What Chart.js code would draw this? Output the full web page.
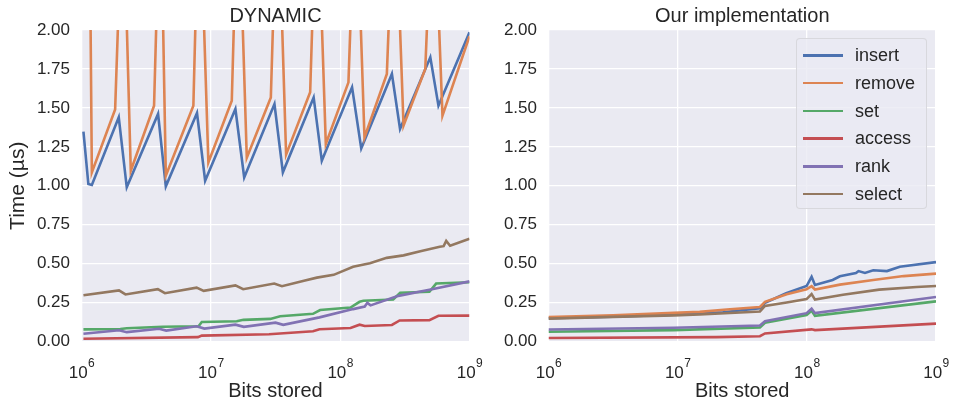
<!DOCTYPE html>
<html><head><meta charset="utf-8">
<script src="https://cdn.jsdelivr.net/npm/chart.js@4.4.1/dist/chart.umd.min.js"></script>
<style>
html,body{margin:0;padding:0;background:#fff;width:953px;height:402px;overflow:hidden;font-family:"Liberation Sans",Arial,sans-serif;}
#wrap{position:relative;width:953px;height:402px;}
canvas{position:absolute;top:0;}
#c1{left:0}
#c2{left:476px}
#legend{position:absolute;left:796px;top:38px;width:131px;height:171px;box-sizing:border-box;background:rgba(234,234,242,0.8);border:1px solid rgba(214,214,218,0.9);border-radius:4px;}
.row{position:absolute;left:0;width:131px;height:22px;}
.sw{position:absolute;left:6px;top:10px;width:40px;height:2.6px;}
.lb{position:absolute;left:58px;top:0;font-size:18px;line-height:22px;color:#262626;}
</style>
</head><body>
<div id="wrap">
<canvas id="c1" width="510" height="402"></canvas>
<canvas id="c2" width="477" height="402"></canvas>
<div id="legend"></div>
</div>
<script>
// ---- data: x given as log10(bits stored), y as time in µs ----
const seriesNames = ['insert', 'remove', 'set', 'access', 'rank', 'select'];
const xTickExps = [6, 7, 8, 9];
const xTickBase = '10';
const xTickExpLabels = ['6', '7', '8', '9'];
const yTickValues = [0, 0.25, 0.5, 0.75, 1.0, 1.25, 1.5, 1.75, 2.0];

// DYNAMIC
const dynInsertExp  = [6.015, 6.053, 6.080, 6.288, 6.350, 6.592, 6.652, 6.893, 6.956, 7.190, 7.258, 7.492, 7.557, 7.795, 7.858, 8.092, 8.163, 8.400, 8.463, 8.697, 8.760, 9.000];
const dynInsertTime = [1.347, 1.011, 1.005, 1.439, 0.990, 1.461, 0.996, 1.467, 1.032, 1.493, 1.053, 1.525, 1.086, 1.567, 1.160, 1.632, 1.240, 1.718, 1.364, 1.825, 1.514, 1.985];
const dynRemoveExp  = [6.060, 6.080, 6.260, 6.320, 6.381, 6.561, 6.610, 6.652, 6.865, 6.910, 6.981, 7.162, 7.210, 7.278, 7.464, 7.515, 7.582, 7.768, 7.820, 7.889, 8.064, 8.120, 8.188, 8.361, 8.420, 8.490, 8.658, 8.720, 8.791, 9.000];
const dynRemoveTime = [3.00, 1.085, 1.490, 2.95, 1.096, 1.514, 3.00, 1.064, 1.514, 3.00, 1.150, 1.546, 3.00, 1.180, 1.567, 3.00, 1.200, 1.600, 3.00, 1.268, 1.664, 3.00, 1.310, 1.718, 3.00, 1.386, 1.750, 3.00, 1.450, 1.960];
const dynSetExp     = [6.015, 6.30, 6.35, 6.63, 6.905, 6.93, 7.20, 7.252, 7.46, 7.536, 7.79, 7.845, 8.08, 8.15, 8.18, 8.41, 8.464, 8.69, 8.742, 9.0];
const dynSetTime    = [0.078, 0.080, 0.085, 0.095, 0.098, 0.125, 0.130, 0.139, 0.145, 0.162, 0.178, 0.202, 0.218, 0.255, 0.262, 0.270, 0.313, 0.319, 0.372, 0.380];
const dynAccessExp  = [6.015, 6.90, 6.93, 7.45, 7.79, 7.84, 8.08, 8.15, 8.19, 8.40, 8.46, 8.69, 8.76, 9.0];
const dynAccessTime = [0.018, 0.028, 0.038, 0.047, 0.066, 0.079, 0.087, 0.108, 0.100, 0.106, 0.135, 0.137, 0.165, 0.166];
const dynRankExp    = [6.015, 6.29, 6.35, 6.60, 6.655, 6.89, 6.95, 7.19, 7.255, 7.50, 7.56, 7.84, 8.10, 8.19, 8.21, 8.235, 8.45, 8.71, 9.0];
const dynRankTime   = [0.050, 0.072, 0.060, 0.082, 0.070, 0.098, 0.083, 0.108, 0.094, 0.121, 0.107, 0.155, 0.208, 0.224, 0.248, 0.232, 0.293, 0.336, 0.386];
const dynSelectExp  = [6.015, 6.29, 6.34, 6.59, 6.645, 6.89, 6.945, 7.19, 7.25, 7.49, 7.55, 7.72, 7.82, 7.95, 8.10, 8.23, 8.36, 8.49, 8.62, 8.77, 8.80, 8.82, 8.85, 9.0];
const dynSelectTime = [0.297, 0.328, 0.302, 0.336, 0.310, 0.346, 0.325, 0.360, 0.336, 0.372, 0.355, 0.390, 0.410, 0.428, 0.480, 0.503, 0.537, 0.553, 0.580, 0.608, 0.612, 0.646, 0.615, 0.660];

// Our implementation
const ourInsertExp  = [6.0, 6.5, 6.97, 7.17, 7.35, 7.637, 7.676, 7.84, 7.998, 8.037, 8.063, 8.20, 8.256, 8.38, 8.40, 8.45, 8.514, 8.62, 8.72, 9.0];
const ourInsertTime = [0.150, 0.160, 0.172, 0.180, 0.188, 0.214, 0.248, 0.310, 0.356, 0.415, 0.363, 0.395, 0.419, 0.440, 0.452, 0.440, 0.457, 0.452, 0.480, 0.510];
const ourRemoveExp  = [6.0, 6.5, 6.97, 7.17, 7.38, 7.637, 7.676, 7.844, 7.998, 8.037, 8.063, 8.256, 8.514, 8.75, 9.0];
const ourRemoveTime = [0.157, 0.168, 0.184, 0.190, 0.205, 0.222, 0.255, 0.303, 0.336, 0.355, 0.334, 0.365, 0.395, 0.420, 0.436];
const ourSetExp     = [6.0, 6.97, 7.637, 7.676, 7.998, 8.037, 8.063, 9.0];
const ourSetTime    = [0.063, 0.073, 0.090, 0.120, 0.170, 0.197, 0.165, 0.258];
const ourAccessExp  = [6.0, 7.3, 7.637, 7.676, 8.037, 8.063, 9.0];
const ourAccessTime = [0.022, 0.028, 0.034, 0.052, 0.078, 0.073, 0.115];
const ourRankExp    = [6.0, 6.97, 7.637, 7.676, 7.998, 8.037, 8.063, 9.0];
const ourRankTime   = [0.077, 0.088, 0.103, 0.130, 0.182, 0.211, 0.182, 0.286];
const ourSelectExp  = [6.0, 6.5, 6.97, 7.17, 7.637, 7.676, 7.844, 7.998, 8.037, 8.063, 8.28, 8.56, 8.85, 9.0];
const ourSelectTime = [0.147, 0.158, 0.168, 0.173, 0.193, 0.228, 0.250, 0.272, 0.305, 0.269, 0.300, 0.333, 0.350, 0.356];

// ---- styles ----
const FONT = '"Liberation Sans", Arial, sans-serif';
const TEXT = '#262626';
const COLORS = ['#4C72B0', '#DD8452', '#55A868', '#C44E52', '#8172B3', '#937860'];

function pts(exps, vals) { return exps.map((e, i) => ({ x: Math.pow(10, e), y: vals[i] })); }

function buildDatasets(pairs) {
  return pairs.map((p, i) => ({
    label: seriesNames[i],
    data: pts(p[0], p[1]),
    borderColor: COLORS[i],
    backgroundColor: COLORS[i],
    borderWidth: 2.6,
    pointRadius: 0,
    tension: 0,
    fill: false,
    clip: 0,
    order: seriesNames.length - 1 - i
  }));
}

const bgPlugin = {
  id: 'bg',
  beforeDraw(chart) {
    const { ctx, chartArea: a } = chart;
    ctx.save();
    ctx.fillStyle = '#EAEAF2';
    ctx.fillRect(a.left, a.top, a.right - a.left, a.bottom - a.top);
    ctx.restore();
  }
};

// center the subplot title over the plotting area
const titleCenterPlugin = {
  id: 'titleCenter',
  afterLayout(chart) {
    const t = chart.titleBlock, a = chart.chartArea;
    if (t && a) { t.left = a.left; t.right = a.right; t.width = a.right - a.left; }
  }
};

// x tick labels "10" with raised exponent, positioned by the log scale
const xTickPlugin = {
  id: 'xtickLabels',
  afterDraw(chart) {
    const s = chart.scales.x, ctx = chart.ctx;
    ctx.save();
    ctx.fillStyle = TEXT;
    ctx.textAlign = 'left';
    ctx.textBaseline = 'alphabetic';
    xTickExps.forEach((e, i) => {
      const px = s.getPixelForValue(Math.pow(10, e));
      ctx.font = '17px ' + FONT;
      const wb = ctx.measureText(xTickBase).width;
      ctx.font = '12px ' + FONT;
      const we = ctx.measureText(xTickExpLabels[i]).width;
      const x0 = px - (wb + we) / 2;
      ctx.font = '17px ' + FONT;
      ctx.fillText(xTickBase, x0, s.top + 36);
      ctx.font = '12px ' + FONT;
      ctx.fillText(xTickExpLabels[i], x0 + wb + 0.5, s.top + 25);
    });
    ctx.restore();
  }
};

function makeChart(id, title, pairs, o) {
  return new Chart(document.getElementById(id), {
    type: 'line',
    data: { datasets: buildDatasets(pairs) },
    plugins: [bgPlugin, titleCenterPlugin, xTickPlugin],
    options: {
      responsive: false, animation: false, devicePixelRatio: 1,
      layout: { padding: { left: 0, right: o.padRight, top: 0, bottom: 0 } },
      plugins: {
        legend: { display: false }, tooltip: { enabled: false },
        title: { display: true, text: title, color: TEXT, font: { family: FONT, size: 20, weight: 'normal', lineHeight: 1.2 }, padding: { top: 4, bottom: 2 } }
      },
      scales: {
        x: {
          type: 'logarithmic', min: 1e6, max: 1e9,
          afterBuildTicks(s) { s.ticks = xTickExps.map(e => ({ value: Math.pow(10, e) })); },
          afterFit(s) { s.height = 60.5; },
          ticks: { display: false, autoSkip: false, maxRotation: 0, minRotation: 0 },
          grid: { color: '#FFFFFF', lineWidth: 1.3, drawTicks: false },
          border: { display: false },
          title: { display: true, text: 'Bits stored', color: TEXT, font: { family: FONT, size: 20 }, padding: { top: 0, bottom: -1 } }
        },
        y: {
          min: 0, max: 2,
          afterBuildTicks(s) { s.ticks = yTickValues.map(v => ({ value: v })); },
          afterFit(s) { s.width = o.yWidth; },
          ticks: { padding: 11.5, color: TEXT, font: { family: FONT, size: 17 }, callback: v => Number(v).toFixed(2) },
          grid: { color: '#FFFFFF', lineWidth: 1.3, drawTicks: false },
          border: { display: false },
          title: { display: o.yTitle, text: 'Time (\u00b5s)', color: TEXT, font: { family: FONT, size: 21, lineHeight: 1.2 }, padding: { top: 6, bottom: 0 } }
        }
      }
    }
  });
}

makeChart('c1', 'DYNAMIC', [
  [dynInsertExp, dynInsertTime], [dynRemoveExp, dynRemoveTime], [dynSetExp, dynSetTime],
  [dynAccessExp, dynAccessTime], [dynRankExp, dynRankTime], [dynSelectExp, dynSelectTime]
], { padRight: 40.5, yWidth: 81.5, yTitle: true });

makeChart('c2', 'Our implementation', [
  [ourInsertExp, ourInsertTime], [ourRemoveExp, ourRemoveTime], [ourSetExp, ourSetTime],
  [ourAccessExp, ourAccessTime], [ourRankExp, ourRankTime], [ourSelectExp, ourSelectTime]
], { padRight: 17, yWidth: 72.5, yTitle: false });

// legend (inside right panel)
const lg = document.getElementById('legend');
seriesNames.forEach((n, i) => {
  const r = document.createElement('div');
  r.className = 'row';
  r.style.top = (5 + i * 27.75) + 'px';
  const s = document.createElement('div');
  s.className = 'sw'; s.style.background = COLORS[i];
  const t = document.createElement('div');
  t.className = 'lb'; t.textContent = n;
  r.appendChild(s); r.appendChild(t); lg.appendChild(r);
});
</script>
</body></html>
